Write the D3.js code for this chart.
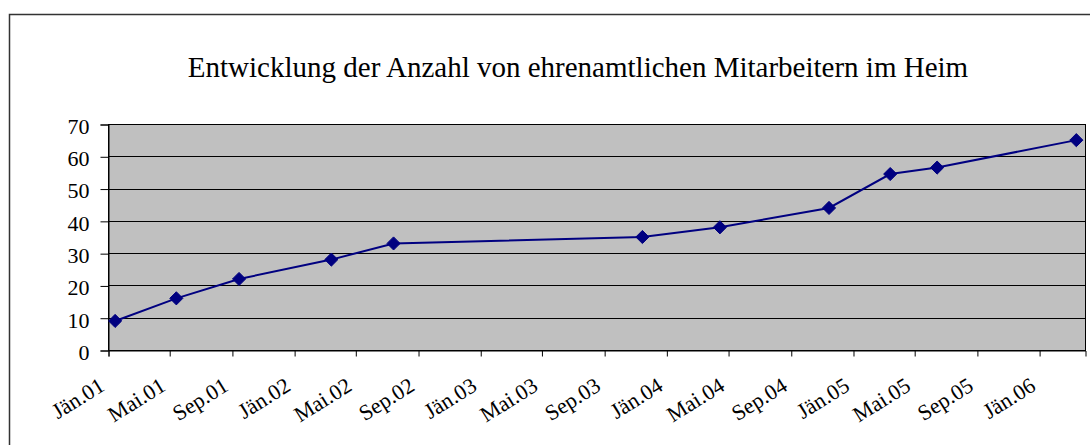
<!DOCTYPE html>
<html>
<head>
<meta charset="utf-8">
<script src="https://cdn.jsdelivr.net/npm/d3@7"></script>
<style>
  body { margin: 0; background: #fff; }
</style>
</head>
<body>
<div id="chart"></div>
<script>
// Daten: Datum der Erhebung und Anzahl ehrenamtlicher Mitarbeiter
const dates = ["2001-01-15", "2001-05-15", "2001-09-15", "2002-03-15", "2002-07-15",
               "2003-11-15", "2004-04-15", "2004-11-15", "2005-03-15", "2005-06-15", "2006-03-15"];
const values = [9, 16, 22, 28, 33, 35, 38, 44, 54.5, 56.5, 65];
const tickLabels = ["Jän.01", "Mai.01", "Sep.01", "Jän.02", "Mai.02", "Sep.02", "Jän.03", "Mai.03",
                    "Sep.03", "Jän.04", "Mai.04", "Sep.04", "Jän.05", "Mai.05", "Sep.05", "Jän.06"];
const yTicks = [0, 10, 20, 30, 40, 50, 60, 70];
const title = "Entwicklung der Anzahl von ehrenamtlichen Mitarbeitern im Heim";

const W = 1090, H = 445;
const plot = {left: 108, right: 1085, top: 124, bottom: 350};
const FONT = '"Liberation Serif", "Times New Roman", Times, serif';

const parse = d3.timeParse("%Y-%m-%d");
const data = dates.map((d, i) => ({date: parse(d), value: values[i]}));

const svg = d3.select("#chart").append("svg")
    .attr("width", W)
    .attr("height", H);

// äußerer Rahmen
svg.append("rect")
    .attr("x", 9.5).attr("y", 14.5)
    .attr("width", W + 20).attr("height", H + 20)
    .attr("fill", "#fff")
    .attr("stroke", "#333")
    .attr("stroke-width", 1.5);

svg.append("text")
    .attr("x", 578)
    .attr("y", 77)
    .attr("text-anchor", "middle")
    .style("font-family", FONT)
    .style("font-size", "29px")
    .attr("fill", "#000")
    .text(title);

const x = d3.scaleTime()
    .domain([new Date(2001, 0, 1), new Date(2006, 3, 1)])
    .range([plot.left, plot.right]);

const y = d3.scaleLinear()
    .domain([0, 70])
    .range([plot.bottom, plot.top]);

// Zeichenfläche
svg.append("rect")
    .attr("x", plot.left + 0.5).attr("y", plot.top + 0.5)
    .attr("width", plot.right - plot.left).attr("height", plot.bottom - plot.top)
    .attr("fill", "#c0c0c0");

// Gitternetzlinien
svg.append("g")
    .selectAll("line")
    .data(yTicks.slice(1))
    .join("line")
    .attr("x1", plot.left).attr("x2", plot.right)
    .attr("y1", d => Math.round(y(d)) + 0.5)
    .attr("y2", d => Math.round(y(d)) + 0.5)
    .attr("stroke", "#000")
    .attr("stroke-width", 1);

svg.append("rect")
    .attr("x", plot.left + 0.5).attr("y", plot.top + 0.5)
    .attr("width", plot.right - plot.left).attr("height", plot.bottom - plot.top)
    .attr("fill", "none")
    .attr("stroke", "#000")
    .attr("stroke-width", 1);

// y-Achse
const yAxis = svg.append("g")
    .attr("transform", `translate(${plot.left + 0.5},0.5)`)
    .call(d3.axisLeft(y).tickValues(yTicks).tickSize(8).tickPadding(11).tickFormat(d3.format("d")));
yAxis.select(".domain").attr("stroke", "#000");
yAxis.selectAll("line").attr("stroke", "#000");
yAxis.selectAll("text")
    .style("font-family", FONT)
    .style("font-size", "22px")
    .attr("dy", "0.4em")
    .attr("fill", "#000");

// x-Achse
const tickDates = tickLabels.map((_, i) => d3.timeMonth.offset(new Date(2001, 0, 1), i * 4));
const xAxis = svg.append("g")
    .attr("transform", `translate(0.5,${plot.bottom + 0.5})`)
    .call(d3.axisBottom(x).tickValues(tickDates).tickSize(6)
        .tickFormat((d, i) => tickLabels[i]));
xAxis.select(".domain").attr("stroke", "#000");
xAxis.selectAll("line").attr("stroke", "#000");
xAxis.selectAll("text")
    .style("font-family", FONT)
    .style("font-size", "22px")
    .attr("fill", "#000")
    .attr("text-anchor", "end")
    .attr("y", 0)
    .attr("dy", 0)
    .attr("transform", "translate(-3,39) rotate(-32)");

// Linie und Markierungen
const line = d3.line()
    .x(d => x(d.date))
    .y(d => y(d.value));

svg.append("path")
    .datum(data)
    .attr("d", line)
    .attr("fill", "none")
    .attr("stroke", "#000080")
    .attr("stroke-width", 2);

svg.append("g")
    .selectAll("path")
    .data(data)
    .join("path")
    .attr("transform", d => `translate(${x(d.date)},${y(d.value)})`)
    .attr("d", d3.symbol(d3.symbolDiamond2, 110))
    .attr("fill", "#000080")
    .attr("stroke", "#000080")
    .attr("stroke-width", 1);
</script>
</body>
</html>
